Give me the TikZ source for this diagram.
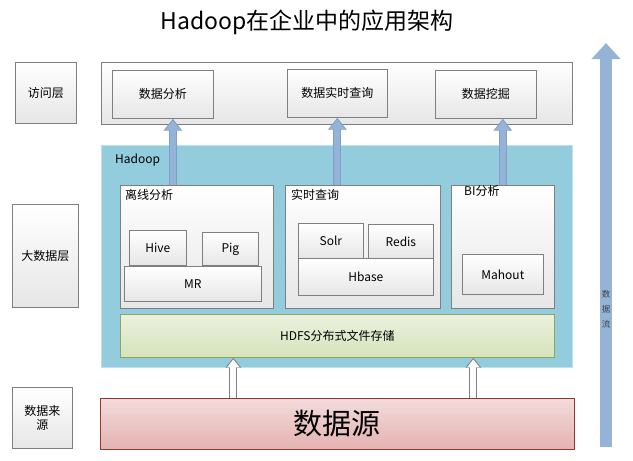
\documentclass[tikz,border=0pt]{standalone}
\usepackage{fontspec}
\setmainfont{Noto Sans CJK SC}
\usetikzlibrary{arrows.meta}

\definecolor{boxline}{HTML}{7F7F7F}
\definecolor{boxlow}{HTML}{E6E6E6}
\definecolor{hadoopfill}{HTML}{93CDDD}
\definecolor{hdfstop}{HTML}{EBF1DE}
\definecolor{hdfslow}{HTML}{D5E3BA}
\definecolor{hdfsline}{HTML}{8CA65C}
\definecolor{srctop}{HTML}{F2DCDB}
\definecolor{srclow}{HTML}{E4B2B1}
\definecolor{srcline}{HTML}{953735}
\definecolor{flowblue}{HTML}{95B3D7}
\definecolor{flowline}{HTML}{7F9FC8}

\tikzset{
  box/.style={draw=boxline, line width=0.7pt, top color=white, bottom color=boxlow, inner sep=0pt, anchor=north west, font=\fontsize{12}{14}\selectfont},
  tag/.style={inner sep=0pt, font=\fontsize{12}{14}\selectfont},
  upout/.style={line width=8pt, flowline, -{Triangle[length=12pt,width=18pt]}},
  upin/.style={line width=6pt, flowblue, shorten >=1.6pt, -{Triangle[length=10pt,width=15pt]}},
  feedout/.style={line width=8pt, boxline, -{Triangle[length=10pt,width=15pt]}},
  feedin/.style={line width=6pt, white, shorten >=1.6pt, -{Triangle[length=8pt,width=12pt]}}
}

\begin{document}
\begin{tikzpicture}[x=1pt, y=-1pt]
  \useasboundingbox (0,0) rectangle (633,461);
  \node[font=\fontsize{23}{26}\selectfont] (title) at (307,22) {Hadoop在企业中的应用架构};

  \node[box, minimum width=61, minimum height=61] (access) at (15,62) {访问层};
  \node[box, minimum width=66, minimum height=103] (bigdata) at (12,204) {大数据层};
  \node[box, minimum width=60, minimum height=61, align=center] (origin) at (12,387) {数据来\\源};

  \node[box, minimum width=471, minimum height=62] (accessbar) at (101,62) {};
  \node[box, minimum width=101, minimum height=48] (analysis) at (112,70) {数据分析};
  \node[box, minimum width=100, minimum height=48] (query) at (287,69) {数据实时查询};
  \node[box, minimum width=101, minimum height=48] (mining) at (435,70) {数据挖掘};

  \node[draw=hadoopfill!60!white, fill=hadoopfill, anchor=north west, minimum width=471, minimum height=222] (hadoop) at (101,145) {};
  \node[tag, anchor=west] (hadooptag) at (115,160) {Hadoop};

  \node[box, minimum width=153, minimum height=123] (offline) at (120,185) {};
  \node[tag, anchor=north west] (offlinetag) at (125,189) {离线分析};
  \node[box, minimum width=57, minimum height=35] (hive) at (129,230) {Hive};
  \node[box, minimum width=56, minimum height=33] (pig) at (202,232) {Pig};
  \node[box, minimum width=137, minimum height=35] (mr) at (124,266) {MR};

  \node[box, minimum width=155, minimum height=123] (realtime) at (285,185) {};
  \node[tag, anchor=north west] (realtimetag) at (291,189) {实时查询};
  \node[box, minimum width=65, minimum height=35] (solr) at (298,223) {Solr};
  \node[box, minimum width=65, minimum height=34] (redis) at (368,224) {Redis};
  \node[box, minimum width=135, minimum height=37] (hbase) at (298,258) {Hbase};

  \node[box, minimum width=103, minimum height=123] (bi) at (451,185) {};
  \node[tag, anchor=north west] (bitag) at (464,185) {BI分析};
  \node[box, minimum width=81, minimum height=40] (mahout) at (462,254) {Mahout};

  \node[box, draw=hdfsline, top color=hdfstop, bottom color=hdfslow, minimum width=434, minimum height=43] (hdfs) at (120,314) {HDFS分布式文件存储};
  \node[box, draw=srcline, top color=srctop, bottom color=srclow, minimum width=474, minimum height=51, font=\fontsize{29}{31}\selectfont] (source) at (100,398) {数据源};

  \draw[upout] ([xshift=-24]offline.north) -- ([xshift=-24]offline.north |- analysis.south);
  \draw[upin] ([xshift=-24]offline.north) -- ([xshift=-24]offline.north |- analysis.south);
  \draw[upout] (realtime.north -| query.south) -- (query.south);
  \draw[upin] (realtime.north -| query.south) -- (query.south);
  \draw[upout] (bi.north) -- (bi.north |- mining.south);
  \draw[upin] (bi.north) -- (bi.north |- mining.south);

  \draw[feedout] ([xshift=-104]source.north) -- ([xshift=-104]source.north |- hdfs.south);
  \draw[feedin] ([xshift=-104]source.north) -- ([xshift=-104]source.north |- hdfs.south);
  \draw[feedout] ([xshift=136]source.north) -- ([xshift=136]source.north |- hdfs.south);
  \draw[feedin] ([xshift=136]source.north) -- ([xshift=136]source.north |- hdfs.south);

  \coordinate (flowbase) at (606,447);
  \coordinate (flowtip) at (606,43);
  \draw[line width=12pt, flowblue, -{Triangle[length=16pt,width=28pt]}] (flowbase) -- (flowtip);
  \node[inner sep=0pt, align=center, font=\fontsize{8.5}{15}\selectfont, text=black!75] (flowtag) at (606,309) {数\\据\\流};
\end{tikzpicture}
\end{document}
